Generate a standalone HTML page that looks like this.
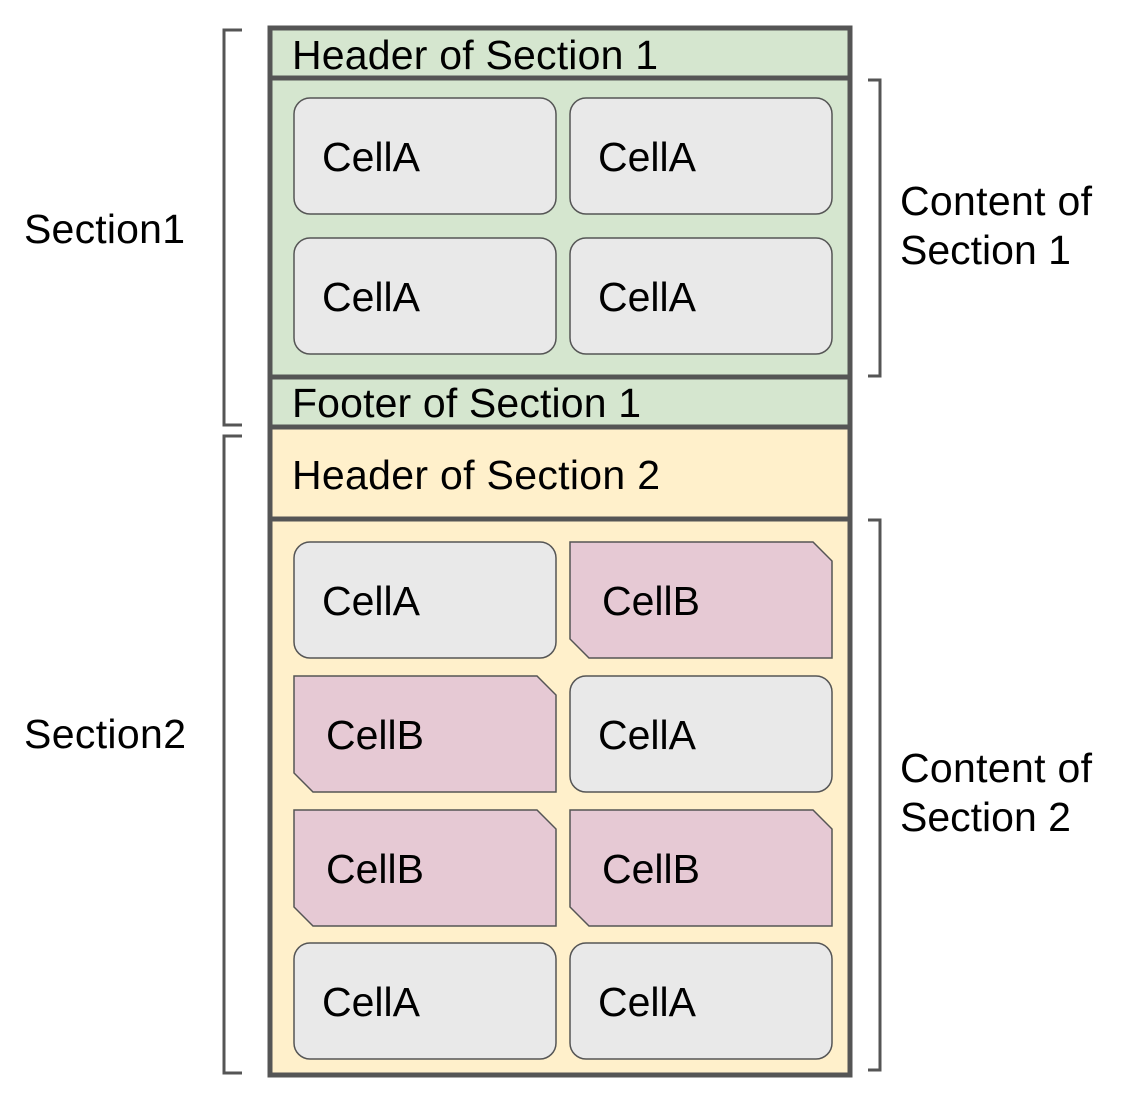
<!DOCTYPE html>
<html><head><style>body{margin:0;background:#fff}svg{display:block}</style></head><body>
<svg width="1128" height="1102" xmlns="http://www.w3.org/2000/svg" font-family="Liberation Sans, sans-serif">
<rect width="1128" height="1102" fill="#fff"/>
<rect x="270" y="28" width="580" height="400" fill="#d5e6cf"/>
<rect x="270" y="428" width="580" height="647" fill="#fff0cb"/>
<g stroke="#555" stroke-width="5" fill="none">
<rect x="270" y="28" width="580" height="1047"/>
<line x1="270" y1="78" x2="850" y2="78"/>
<line x1="270" y1="377" x2="850" y2="377"/>
<line x1="270" y1="427" x2="850" y2="427"/>
<line x1="270" y1="519" x2="850" y2="519"/>
</g>
<g stroke="#555" stroke-width="3" fill="none">
<path d="M242 30 H224 V425 H242"/>
<path d="M242 436 H224 V1073 H242"/>
<path d="M868 80 H880 V376 H868"/>
<path d="M868 520 H880 V1070 H868"/>
</g>
<g stroke="#555" stroke-width="1.5" fill="#e9e9e9">
<rect x="294" y="98" width="262" height="116" rx="16"/>
<rect x="570" y="98" width="262" height="116" rx="16"/>
<rect x="294" y="238" width="262" height="116" rx="16"/>
<rect x="570" y="238" width="262" height="116" rx="16"/>
<rect x="294" y="542" width="262" height="116" rx="16"/>
<rect x="570" y="676" width="262" height="116" rx="16"/>
<rect x="294" y="943" width="262" height="116" rx="16"/>
<rect x="570" y="943" width="262" height="116" rx="16"/>
</g>
<g stroke="#555" stroke-width="1.5" fill="#e6c9d4">
<path d="M570 542 H813 L832 561 V658 H589 L570 639 Z"/>
<path d="M294 676 H537 L556 695 V792 H313 L294 773 Z"/>
<path d="M294 810 H537 L556 829 V926 H313 L294 907 Z"/>
<path d="M570 810 H813 L832 829 V926 H589 L570 907 Z"/>
</g>
<g font-size="41" fill="#000">
<text x="292" y="69" textLength="366">Header of Section 1</text>
<text x="292" y="417" textLength="349">Footer of Section 1</text>
<text x="292" y="489" textLength="368">Header of Section 2</text>
<text x="322" y="171">CellA</text><text x="598" y="171">CellA</text>
<text x="322" y="311">CellA</text><text x="598" y="311">CellA</text>
<text x="322" y="615">CellA</text><text x="602" y="615">CellB</text>
<text x="326" y="749">CellB</text><text x="598" y="749">CellA</text>
<text x="326" y="883">CellB</text><text x="602" y="883">CellB</text>
<text x="322" y="1016">CellA</text><text x="598" y="1016">CellA</text>
<text x="24" y="243" textLength="161">Section1</text>
<text x="24" y="748" textLength="162">Section2</text>
<text x="900" y="215" textLength="192">Content of</text>
<text x="900" y="264">Section 1</text>
<text x="900" y="782" textLength="192">Content of</text>
<text x="900" y="831">Section 2</text>
</g>
</svg>
</body></html>
